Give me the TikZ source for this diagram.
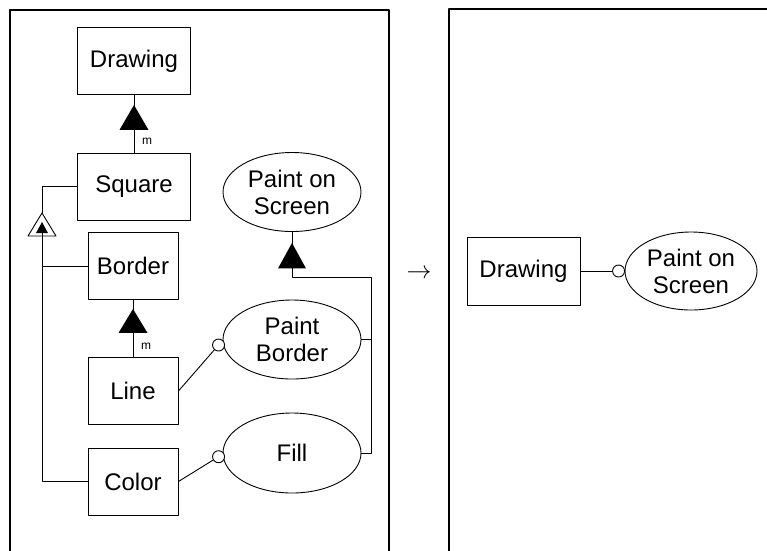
\documentclass[tikz,border=0pt]{standalone}
\usepackage{fontspec}
\setmainfont{Liberation Sans}
\usetikzlibrary{shapes.geometric,calc}

\tikzset{
	box/.style={draw, rectangle, inner sep=0pt, minimum width=90pt, minimum height=67pt},
	widebox/.style={box, minimum width=113pt},
	usecase/.style={draw, ellipse, inner sep=0pt, align=center, minimum width=138pt, minimum height=79pt},
	lolli/.style={draw, circle, fill=white, inner sep=0pt, minimum size=12pt},
	mlabel/.style={font=\fontsize{12}{14}\selectfont},
	frameline/.style={line width=2.4pt},
}

\begin{document}
\begin{tikzpicture}[x=1pt, y=-1pt, line width=0.9pt, font=\fontsize{24}{27}\selectfont, line join=round]
	\useasboundingbox (0,0) rectangle (767,550);
	
	% [Frames - Layer 0]
	\draw[frameline] (10,560) -- (10,10) -- (389,10) -- (389,560);
	\draw[frameline] (449,560) -- (449,9) -- (780,9);
	
	% [Left panel: classes and use cases - Layer 1]
	\node[widebox] (drawing) at (134,61) {Drawing};
	\node[widebox] (square) at (134,186.5) {Square};
	\node[box] (border) at (133,266) {Border};
	\node[box] (linebox) at (133,391) {Line};
	\node[box] (color) at (133,481.5) {Color};
	\node[usecase] (paintscreen) at (292,192) {Paint on\\Screen};
	\node[usecase] (paintborder) at (292,339.5) {Paint\\Border};
	\node[usecase, minimum height=80pt] (fillcase) at (292,453) {Fill};
	
	% [Aggregation: Drawing - Square, Border - Line - Layer 2]
	\draw (drawing) -- (square);
	\fill ($(drawing.south)+(0,10)$) -- ++(-14.5,25) -- ++(29,0) -- cycle;
	\node[mlabel] (m1) at ($(square.north)+(13,-11)$) {m};
	\draw (border) -- (linebox);
	\fill ($(border.south)+(0,9)$) -- ++(-14.5,24) -- ++(29,0) -- cycle;
	\node[mlabel] (m2) at ($(linebox.north)+(13,-11)$) {m};
	
	% [Generalisation tree on the left - Layer 2]
	\coordinate (genapex) at (42,213);
	\coordinate (genfoot) at (42,233);
	\draw (square.west) -| (genapex);
	\draw (genapex) -- ++(-14,23) -- ++(28,0) -- cycle;
	\fill ($(genapex)+(0,9)$) -- ++(-6,11) -- ++(12,0) -- cycle;
	\draw (genfoot) |- (color.west);
	\draw (genfoot |- border.west) -- (border.west);
	
	% [Use case bus - Layer 2]
	\coordinate (bus) at (371,277);
	\draw (paintscreen.south) |- (bus) |- (fillcase.east);
	\draw (paintborder.east) -- (paintborder.east -| bus);
	\fill ($(paintscreen.south)+(0,11)$) -- ++(-14,25.5) -- ++(28,0) -- cycle;
	
	% [Lollipops - Layer 3]
	\node[lolli] (pb) at ($(paintborder.west)+(-4,5.5)$) {};
	\node[lolli] (fl) at ($(fillcase.west)+(-4,3.7)$) {};
	\draw (linebox.east) -- (pb);
	\draw (color.east) -- (fl);
	
	% [Arrow between panels]
	\node[font=\fontsize{31}{34}\selectfont] (becomes) at (419,274) {$\rightarrow$};
	
	% [Right panel - Layer 4]
	\node[widebox, minimum height=68pt] (drawingB) at (523.5,271) {Drawing};
	\node[usecase, minimum width=132pt, minimum height=78pt] (paintscreenB) at (691,271) {Paint on\\Screen};
	\node[lolli] (ps) at ($(paintscreenB.west)+(-6,0)$) {};
	\draw (drawingB.east) -- (ps);
\end{tikzpicture}
\end{document}
